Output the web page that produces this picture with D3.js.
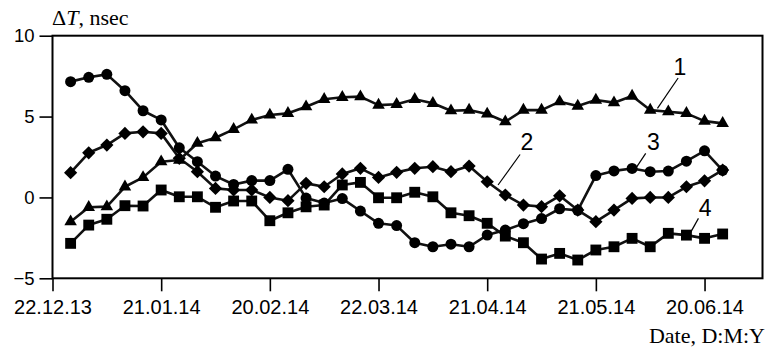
<!DOCTYPE html>
<html>
<head>
<meta charset="utf-8">
<script src="https://cdn.jsdelivr.net/npm/d3@7"></script>
<style>
  body { margin: 0; background: #fff; }
</style>
</head>
<body>
<svg id="chart" width="769" height="350"></svg>
<script>
/****************************************************************
    Data
/****************************************************************/
const dates = [
  '2013-12-27', '2014-01-01', '2014-01-06', '2014-01-11', '2014-01-16', '2014-01-21',
  '2014-01-26', '2014-01-31', '2014-02-05', '2014-02-10', '2014-02-15', '2014-02-20',
  '2014-02-25', '2014-03-02', '2014-03-07', '2014-03-12', '2014-03-17', '2014-03-22',
  '2014-03-27', '2014-04-01', '2014-04-06', '2014-04-11', '2014-04-16', '2014-04-21',
  '2014-04-26', '2014-05-01', '2014-05-06', '2014-05-11', '2014-05-16', '2014-05-21',
  '2014-05-26', '2014-05-31', '2014-06-05', '2014-06-10', '2014-06-15', '2014-06-20',
  '2014-06-25'
]

// 1 - triangles
const series1 = [
  -1.5, -0.61, -0.57, 0.66, 1.24, 2.21, 2.31, 3.35, 3.69, 4.21, 4.79, 5.1,
  5.2, 5.61, 6.07, 6.19, 6.23, 5.71, 5.76, 6.07, 5.82, 5.36, 5.4, 5.16,
  4.68, 5.4, 5.4, 5.92, 5.65, 6.02, 5.86, 6.27, 5.4, 5.3, 5.2, 4.72, 4.58
]
// 2 - diamonds
const series2 = [
  1.53, 2.76, 3.24, 3.96, 4.06, 3.96, 2.42, 1.59, 0.56, 0.46, 0.46, 0.0,
  -0.2, 0.87, 0.66, 1.45, 1.8, 1.24, 1.55, 1.8, 1.9, 1.59, 1.94, 0.97,
  0.15, -0.47, -0.57, 0.1, -0.78, -1.5, -0.78, -0.06, 0.0, 0.0, 0.66, 1.03, 1.69
]
// 3 - circles
const series3 = [
  7.16, 7.43, 7.61, 6.6, 5.36, 4.79, 3.07, 2.21, 1.32, 0.8, 1.04, 1.04,
  1.74, -0.04, -0.35, -0.07, -0.84, -1.6, -1.74, -2.8, -3.05, -2.89, -3.05, -2.33,
  -2.02, -1.62, -1.31, -0.7, -0.8, 1.35, 1.64, 1.79, 1.59, 1.63, 2.24, 2.88, 1.68
]
// 4 - squares
const series4 = [
  -2.84, -1.71, -1.35, -0.51, -0.53, 0.46, 0.04, 0.04, -0.61, -0.22, -0.22, -1.44,
  -0.95, -0.58, -0.47, 0.77, 0.93, -0.02, -0.02, 0.32, 0.04, -0.95, -1.13, -1.6,
  -2.39, -2.8, -3.81, -3.46, -3.87, -3.25, -3.05, -2.53, -3.05, -2.22, -2.33, -2.53, -2.26
]

const tickDates = ['2013-12-22', '2014-01-21', '2014-02-20', '2014-03-22', '2014-04-21', '2014-05-21', '2014-06-20']
const tickLabels = ['22.12.13', '21.01.14', '20.02.14', '22.03.14', '21.04.14', '21.05.14', '20.06.14']
const yTicks = [10, 5, 0, -5]
const yTickLabels = ['10', '5', '0', '\u22125']

// curve labels: anchored on the chart by date and value, text pushed off by pixels
const curveLabels = [
  { text: '1', date: '2014-06-07', value: 5.51, lx: 20.7, ly: -30.3, tx: 22.4, ty: -41.6 },
  { text: '2', date: '2014-04-24', value: 0.77, lx: 22, ly: -30.5, tx: 28.8, ty: -42.5 },
  { text: '3', date: '2014-06-01', value: 1.8, lx: 10, ly: -15, tx: 17.6, ty: -26.6 },
  { text: '4', date: '2014-06-16', value: -2.22, lx: 8.4, ly: -15, tx: 15, ty: -25 }
]

/****************************************************************
    Constant settings
/****************************************************************/
const settings = {
  left: 52.5, //y axis position
  right: 762.5, //right frame
  top: 35.7, //top frame (value 10)
  bottom: 278.3, //x axis position (value -5)
  xStart: '2013-12-22',
  xEnd: '2014-07-06',
  lineColor: '#111',
  lineWidth: 2.6,
  frameWidth: 2,
  tickSize: 13,
  sansFont: '"Liberation Sans", Arial, sans-serif',
  serifFont: '"Liberation Serif", "Times New Roman", serif',
  xTickFontSize: 20,
  yTickFontSize: 18.5,
  labelFontSize: 23,
  titleFontSize: 22
}

const parse = d3.utcParse('%Y-%m-%d')
const svg = d3.select('#chart')

const x = d3.scaleUtc()
  .domain([parse(settings.xStart), parse(settings.xEnd)])
  .range([settings.left, settings.right])

const y = d3.scaleLinear()
  .domain([-5, 10])
  .range([settings.bottom, settings.top])

/****************************************************************
    Axes and frame
/****************************************************************/
const xAxis = d3.axisBottom(x)
  .tickValues(tickDates.map(parse))
  .tickFormat((d, i) => tickLabels[i])
  .tickSize(settings.tickSize)
  .tickSizeOuter(0)
  .tickPadding(9)

const yAxis = d3.axisLeft(y)
  .tickValues(yTicks)
  .tickFormat((d, i) => yTickLabels[i])
  .tickSize(settings.tickSize)
  .tickSizeOuter(0)
  .tickPadding(5)

const gx = svg.append('g')
  .attr('transform', `translate(0,${settings.bottom})`)
  .call(xAxis)
const gy = svg.append('g')
  .attr('transform', `translate(${settings.left},0)`)
  .call(yAxis)

for (const g of [gx, gy]) {
  g.select('.domain').remove()
  g.selectAll('.tick line').attr('stroke', '#000').attr('stroke-width', 1.6)
  g.selectAll('.tick text')
    .attr('fill', '#000')
    .style('font-family', settings.sansFont)
}
gx.selectAll('.tick text').style('font-size', settings.xTickFontSize + 'px')
gy.selectAll('.tick text').style('font-size', settings.yTickFontSize + 'px')

svg.append('rect')
  .attr('x', settings.left)
  .attr('y', settings.top)
  .attr('width', settings.right - settings.left)
  .attr('height', settings.bottom - settings.top)
  .attr('fill', 'none')
  .attr('stroke', '#000')
  .attr('stroke-width', settings.frameWidth)

/****************************************************************
    Series: line plus markers
/****************************************************************/
const diamond = {
  draw(context, size) {
    const r = Math.sqrt(size) / 2
    context.moveTo(0, -r)
    context.lineTo(r, 0)
    context.lineTo(0, r)
    context.lineTo(-r, 0)
    context.closePath()
  }
}

const seriesList = [
  { values: series3, symbol: d3.symbolCircle, size: 95 },
  { values: series2, symbol: diamond, size: 175 },
  { values: series4, symbol: d3.symbolSquare, size: 118 },
  { values: series1, symbol: d3.symbolTriangle, size: 68 }
]

const line = d3.line()
  .x(d => x(d.date))
  .y(d => y(d.value))

seriesList.forEach(s => {
  const points = dates.map((d, i) => ({ date: parse(d), value: s.values[i] }))
  const g = svg.append('g')
  g.append('path')
    .datum(points)
    .attr('d', line)
    .attr('fill', 'none')
    .attr('stroke', settings.lineColor)
    .attr('stroke-width', settings.lineWidth)
    .attr('stroke-linejoin', 'round')
  g.selectAll('path.mark')
    .data(points)
    .join('path')
    .attr('class', 'mark')
    .attr('transform', d => `translate(${x(d.date)},${y(d.value)})`)
    .attr('d', d3.symbol(s.symbol, s.size))
    .attr('fill', '#000')
})

/****************************************************************
    Curve numbers with leader lines
/****************************************************************/
curveLabels.forEach(l => {
  const ax = x(parse(l.date))
  const ay = y(l.value)
  svg.append('line')
    .attr('x1', ax).attr('y1', ay)
    .attr('x2', ax + l.lx).attr('y2', ay + l.ly)
    .attr('stroke', '#000')
    .attr('stroke-width', 1.2)
  svg.append('text')
    .attr('x', ax + l.tx)
    .attr('y', ay + l.ty)
    .attr('text-anchor', 'middle')
    .attr('dominant-baseline', 'central')
    .style('font-family', settings.sansFont)
    .style('font-size', settings.labelFontSize + 'px')
    .text(l.text)
})

/****************************************************************
    Titles
/****************************************************************/
const yTitle = svg.append('text')
  .attr('x', 52)
  .attr('y', 25)
  .style('font-family', settings.serifFont)
  .style('font-size', settings.titleFontSize + 'px')
yTitle.append('tspan').text('\u0394')
yTitle.append('tspan').style('font-style', 'italic').text('T')
yTitle.append('tspan').text(', nsec')

svg.append('text')
  .attr('x', 765)
  .attr('y', 343)
  .attr('text-anchor', 'end')
  .style('font-family', settings.serifFont)
  .style('font-size', settings.titleFontSize + 'px')
  .text('Date, D:M:Y')
</script>
</body>
</html>
